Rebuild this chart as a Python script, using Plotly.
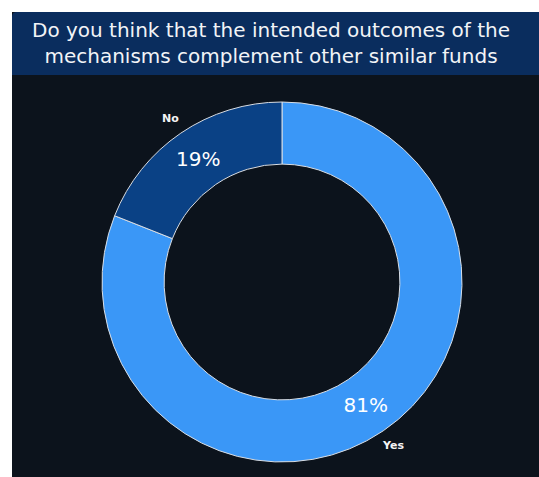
import math
import plotly.graph_objects as go

# Survey answers and their share of respondents (percent)
answers = ["Yes", "No"]
shares = [81, 19]
slice_colors = ["#3a97f7", "#0a4185"]

title_lines = [
    "Do you think that the intended outcomes of the",
    "mechanisms complement other similar funds",
]

W, H = 539, 477


def px_x(v):
    return v / W


def px_y(v):
    return 1 - v / H


# donut geometry (pixels)
cx, cy, r = 282, 282, 180
label_r = 198
domain = dict(x=[px_x(cx - r), px_x(cx + r)], y=[px_y(cy + r), px_y(cy - r)])

fig = go.Figure()

# ring with percentages drawn inside each slice
fig.add_trace(go.Pie(
    labels=answers,
    values=shares,
    hole=0.655,
    sort=False,
    direction="clockwise",
    rotation=0,
    domain=domain,
    marker=dict(colors=slice_colors, line=dict(color="#d8dde4", width=1)),
    textinfo="percent",
    textposition="inside",
    insidetextorientation="horizontal",
    texttemplate="%{percent:.0%}",
    textfont=dict(family="DejaVu Sans", size=20, color="#ffffff"),
    showlegend=False,
    hoverinfo="label+percent",
))

# category names just outside the ring, at each slice's mid-angle
annotations = []
total = sum(shares)
start = 90.0  # 12 o'clock, going clockwise
for name, val in zip(answers, shares):
    sweep = 360.0 * val / total
    mid = math.radians(start - sweep / 2)
    start -= sweep
    lx = cx + label_r * math.cos(mid)
    ly = cy - label_r * math.sin(mid)
    annotations.append(dict(
        text=f"<b>{name}</b>", x=px_x(lx), y=px_y(ly),
        xref="paper", yref="paper", xanchor="center", yanchor="middle",
        showarrow=False,
        font=dict(family="DejaVu Sans", size=11, color="#f4f4f4"),
    ))

annotations.append(dict(
    text="<br>".join(title_lines),
    x=px_x(271), y=px_y(43), xref="paper", yref="paper",
    xanchor="center", yanchor="middle", showarrow=False,
    font=dict(family="DejaVu Sans", size=20, color="#f2f4f7"),
    align="center",
))

shapes = [
    # dark card
    dict(type="rect", xref="paper", yref="paper",
         x0=px_x(12), x1=1, y0=0, y1=px_y(12),
         fillcolor="#0c131c", line=dict(width=0), layer="below"),
    # title banner with a rounded top-left corner
    dict(type="path", xref="paper", yref="paper",
         path=(f"M {px_x(12)},{px_y(75)} L {px_x(12)},{px_y(17)} "
               f"Q {px_x(12)},{px_y(12)} {px_x(17)},{px_y(12)} "
               f"L 1,{px_y(12)} L 1,{px_y(75)} Z"),
         fillcolor="#0a2d5e", line=dict(width=0), layer="below"),
]

fig.update_layout(
    width=W,
    height=H,
    margin=dict(l=0, r=0, t=0, b=0),
    paper_bgcolor="#ffffff",
    plot_bgcolor="#ffffff",
    shapes=shapes,
    annotations=annotations,
)

fig.write_html("out.html")
